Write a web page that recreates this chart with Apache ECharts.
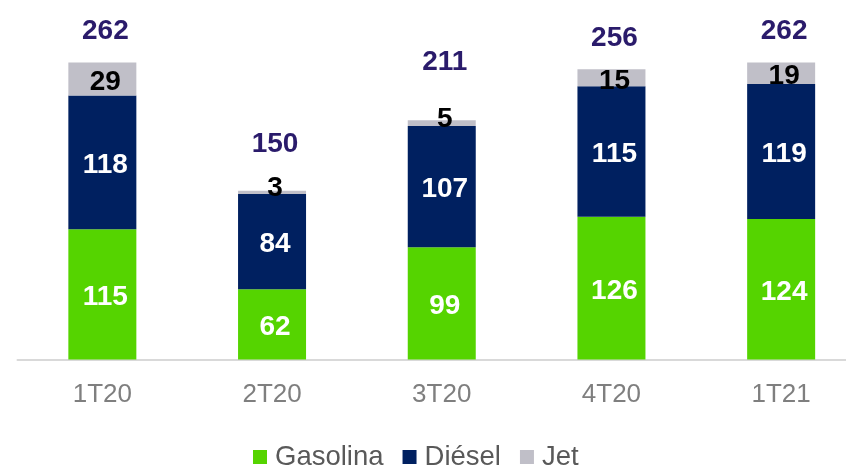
<!DOCTYPE html>
<html lang="es">
<head>
  <meta charset="UTF-8">
  <title>Ventas por producto</title>
  <script src="https://cdn.jsdelivr.net/npm/echarts@6/dist/echarts.min.js"></script>
  <style>
    body { margin: 0; padding: 0; background: #ffffff; overflow: hidden; }
    /* el eje del original sigue más allá del borde derecho */
    #chart { width: 866px; height: 466px; }
  </style>
</head>
<body>
  <div id="chart"></div>
  <script>
    // datos
    const trimestres = ['1T20', '2T20', '3T20', '4T20', '1T21'];
    const gasolina = [115, 62, 99, 126, 124];
    const diesel = [118, 84, 107, 115, 119];
    const jet = [29, 3, 5, 15, 19];
    const totales = [262, 150, 211, 256, 262];

    const font = 'Liberation Sans, Arial, sans-serif';
    const colores = ['#55D400', '#002060', '#C0BFC8'];

    // separación de la etiqueta del total respecto a la barra
    const distTotal = [20, 34, 47, 20, 20];

    const chart = echarts.init(document.getElementById('chart'));

    const etiquetaBlanca = {
      show: true,
      position: 'inside',
      color: '#ffffff',
      fontWeight: 'bold',
      fontSize: 28,
      fontFamily: font,
      offset: [3, 3]
    };

    chart.setOption({
      animation: false,
      grid: { left: 17.5, right: 0, top: 19.5, height: 340, containLabel: false },
      legend: {
        data: ['Gasolina', 'Diésel', 'Jet'],
        left: 253,
        top: 443,
        padding: 0,
        icon: 'rect',
        itemWidth: 14,
        itemHeight: 14,
        itemGap: 19,
        textStyle: { fontSize: 27.5, color: '#595959', fontFamily: font, padding: [0, 0, 0, 3] }
      },
      xAxis: {
        type: 'category',
        data: trimestres,
        axisLine: { lineStyle: { color: '#D9D9D9', width: 2 } },
        axisTick: { show: false },
        axisLabel: { fontSize: 26, color: '#7F7F7F', fontFamily: font, margin: 22 }
      },
      yAxis: {
        type: 'value',
        min: 0,
        max: 300,
        show: false,
        splitLine: { show: false }
      },
      series: [
        {
          name: 'Gasolina',
          type: 'bar',
          stack: 'ventas',
          barWidth: 68,
          itemStyle: { color: colores[0] },
          label: etiquetaBlanca,
          data: gasolina
        },
        {
          name: 'Diésel',
          type: 'bar',
          stack: 'ventas',
          barWidth: 68,
          itemStyle: { color: colores[1] },
          label: etiquetaBlanca,
          data: diesel
        },
        {
          name: 'Jet',
          type: 'bar',
          stack: 'ventas',
          barWidth: 68,
          itemStyle: { color: colores[2] },
          label: {
            show: true,
            position: 'inside',
            color: '#000000',
            fontWeight: 'bold',
            fontSize: 28,
            fontFamily: font,
            offset: [3, 3]
          },
          data: jet.map((v, i) => (v < 10 ? { value: v, label: { offset: [3, -4] } } : v))
        },
        {
          name: 'Total',
          type: 'scatter',
          symbolSize: 0,
          silent: true,
          z: 5,
          itemStyle: { opacity: 1 },
          data: totales.map((v, i) => ({
            value: v,
            label: { distance: distTotal[i] }
          })),
          label: {
            show: true,
            position: 'top',
            color: '#2A1B6B',
            opacity: 1,
            fontWeight: 'bold',
            fontSize: 28,
            fontFamily: font,
            offset: [3, 2.5]
          }
        }
      ]
    });
  </script>
</body>
</html>
